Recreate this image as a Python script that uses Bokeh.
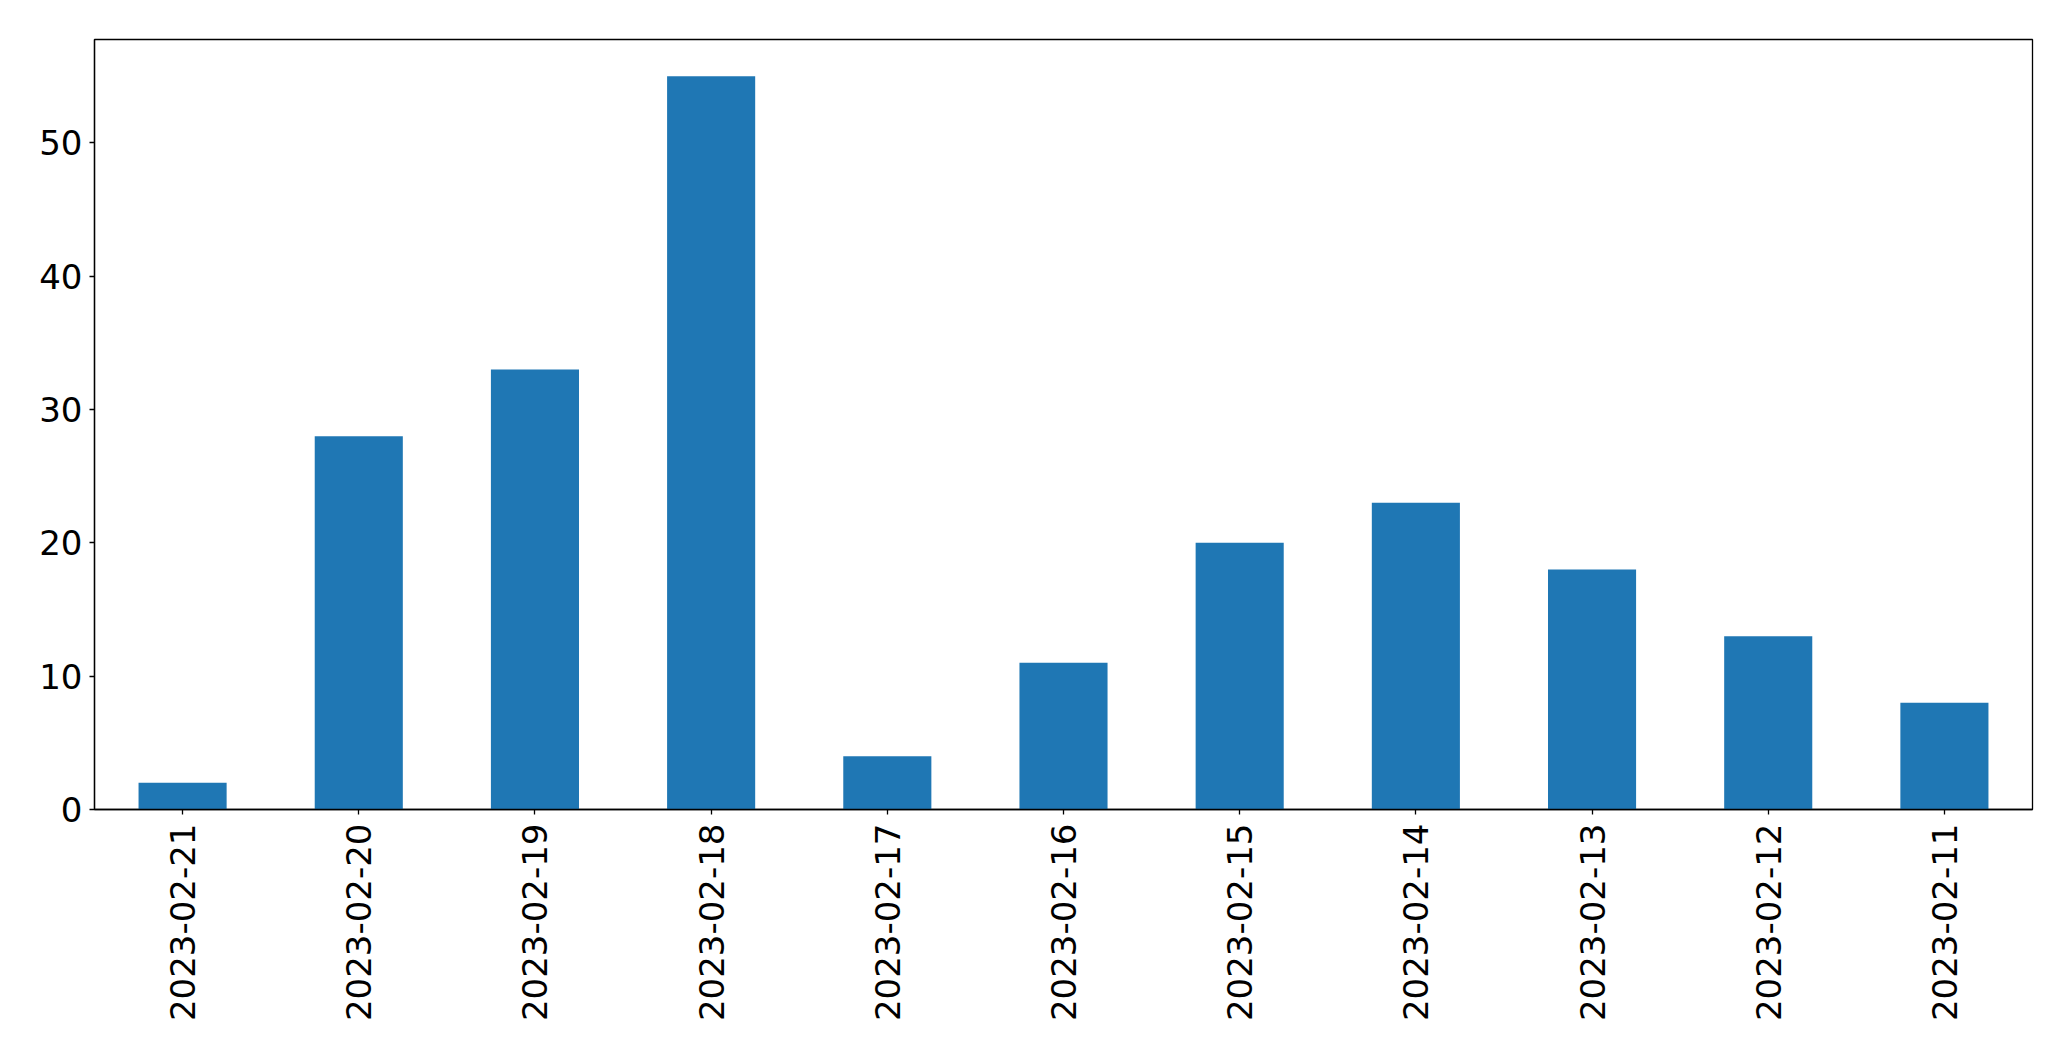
import math
from bokeh.plotting import figure
from bokeh.models import ColumnDataSource, FixedTicker, Range1d
from bokeh.embed import file_html
from bokeh.resources import INLINE

dates = ["2023-02-21", "2023-02-20", "2023-02-19", "2023-02-18", "2023-02-17",
         "2023-02-16", "2023-02-15", "2023-02-14", "2023-02-13", "2023-02-12",
         "2023-02-11"]
counts = [2, 28, 33, 55, 4, 11, 20, 23, 18, 13, 8]
y_ticks = [0, 10, 20, 30, 40, 50]

src = ColumnDataSource(dict(date=dates, count=counts))

p = figure(x_range=dates, y_range=Range1d(0, max(counts) * 1.05),
           width=2063, height=1053, output_backend="svg", toolbar_location=None,
           min_border_left=94, min_border_top=39, min_border_right=31, min_border_bottom=244)
p.x_range.range_padding = 0

p.vbar(x="date", top="count", width=0.5, source=src, color="#1f77b4", line_color=None)

p.xgrid.visible = False
p.ygrid.visible = False
p.outline_line_color = "black"
p.outline_line_width = 1.3
p.outline_line_alpha = 1

for ax in (p.xaxis[0], p.yaxis[0]):
    ax.major_label_text_font = "DejaVu Sans"
    ax.major_label_text_font_size = "34px"
    ax.major_label_text_color = "black"
    ax.axis_line_color = "black"
    ax.axis_line_width = 1.3
    ax.major_tick_line_color = "black"
    ax.major_tick_line_width = 1.3
    ax.major_tick_out = 5
    ax.major_tick_in = 0
    ax.minor_tick_line_color = None

p.yaxis.ticker = FixedTicker(ticks=y_ticks)
p.yaxis.major_label_standoff = 7
p.xaxis.major_label_orientation = math.pi / 2
p.xaxis.major_label_standoff = 9

open("out.html", "w").write(file_html(p, INLINE))
